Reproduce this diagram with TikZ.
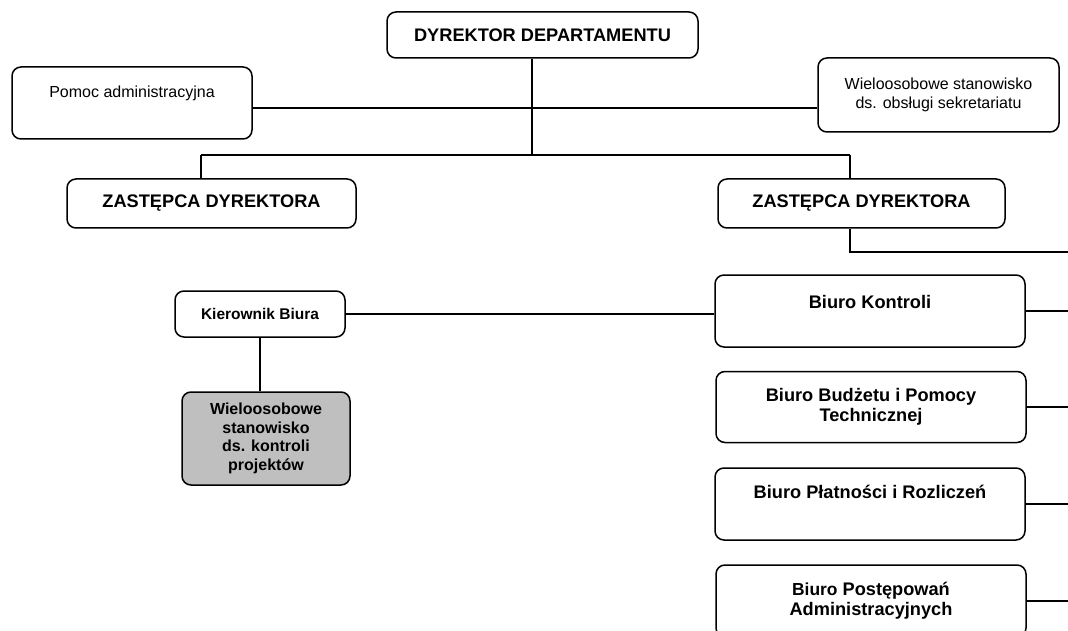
\documentclass[tikz,border=0pt]{standalone}
\usepackage{fontspec}
\setmainfont{Liberation Sans}
\begin{document}
\begin{tikzpicture}[x=1pt,y=-1pt]
	\tikzset{box/.style = {draw, rounded corners=9pt, line width=1.5pt, inner sep=0pt, align=center},
		head/.style = {box, font=\fontsize{18.2}{20}\selectfont\bfseries},
		plain/.style = {box, font=\fontsize{16}{19}\selectfont},
		link/.style = {line width=1.6pt}}
	\useasboundingbox (0,0) rectangle (1068,631);
	% Draw top of the chart
	\node[head, minimum width=311pt, minimum height=46pt] (dyr) at (542.5,35) {DYREKTOR DEPARTAMENTU};
	\node[plain, minimum width=240pt, minimum height=72pt, text height=12pt, text depth=22.5pt] (pomoc) at (132,103) {Pomoc administracyjna};
	\node[plain, minimum width=241pt, minimum height=74pt] (sekr) at (938.5,95) {Wieloosobowe stanowisko\\ds. obsługi sekretariatu};
	\node[head, minimum width=289pt, minimum height=49pt] (zastL) at (211.5,203.5) {ZASTĘPCA DYREKTORA};
	\node[head, minimum width=287pt, minimum height=49pt] (zastR) at (861.5,203.5) {ZASTĘPCA DYREKTORA};
	\coordinate (hub) at (532,155);
	\coordinate (mid) at (532,108);
	\coordinate (jL) at (201,155);
	\coordinate (jR) at (850,155);
	\coordinate (rail) at (1068,252);
	% Draw offices
	\node[box, font=\fontsize{15.5}{18}\selectfont\bfseries, minimum width=170pt, minimum height=46pt] (kier) at (260,314) {Kierownik Biura};
	\node[box, fill=black!25, font=\fontsize{16}{18.7}\selectfont\bfseries, minimum width=168pt, minimum height=93pt] (proj) at (266,438.5) {Wieloosobowe\\stanowisko\\ds. kontroli\\projektów};
	\node[head, minimum width=310pt, minimum height=72pt, text height=13pt, text depth=18.5pt] (kontr) at (870,311) {Biuro Kontroli};
	\node[head, minimum width=310pt, minimum height=71pt] (budz) at (871,407) {Biuro Budżetu i Pomocy\\Technicznej};
	\node[head, minimum width=310pt, minimum height=72pt, text height=13pt, text depth=24.5pt] (plat) at (870,504) {Biuro Płatności i Rozliczeń};
	\node[head, minimum width=310pt, minimum height=72pt] (post) at (871,601) {{\fontsize{17.4}{20}\selectfont Biuro} Postępowań\\Administracyjnych};
	% Draw links
	\draw[link] (dyr.south -| hub) -- (hub);
	\draw[link] (pomoc.east |- mid) -- (sekr.west |- mid);
	\draw[link] (jL) -- (jR);
	\draw[link] (jL) -- (jL |- zastL.north);
	\draw[link] (jR) -- (jR |- zastR.north);
	\draw[link] (zastR.south -| jR) |- (rail);
	\draw[link] (kier.east) -- (kier.east -| kontr.west);
	\draw[link] (kier.south) -- (kier.south |- proj.north);
	\draw[link] (kontr.east) -- (kontr.east -| rail);
	\draw[link] (budz.east) -- (budz.east -| rail);
	\draw[link] (plat.east) -- (plat.east -| rail);
	\draw[link] (post.east) -- (post.east -| rail);
\end{tikzpicture}
\end{document}
